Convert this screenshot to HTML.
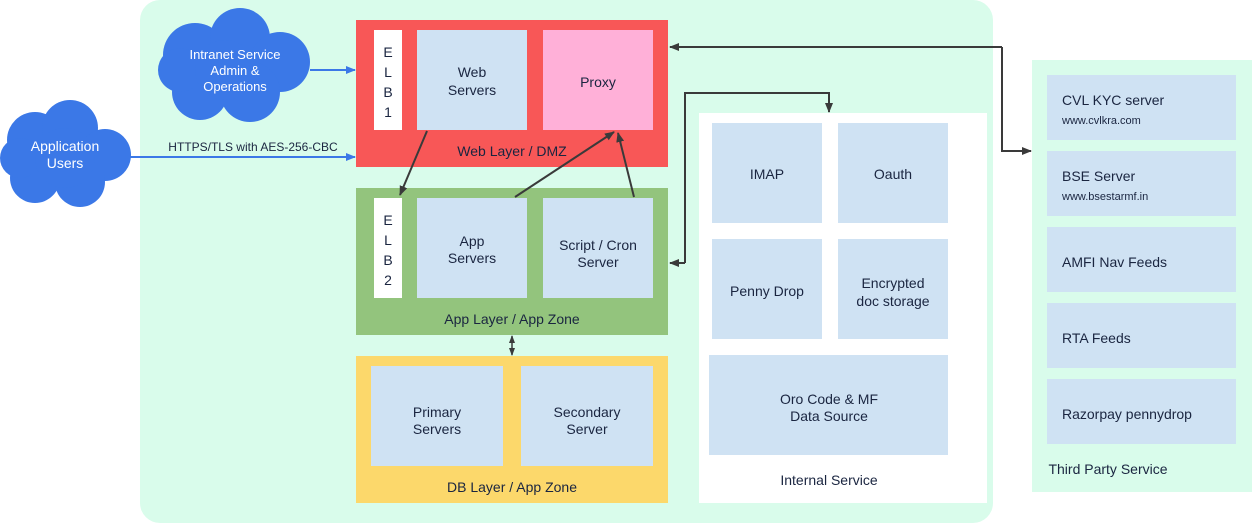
<!DOCTYPE html>
<html><head><meta charset="utf-8"><style>
body{margin:0;width:1252px;height:525px;background:#fff;overflow:hidden}
svg{display:block}
text{font-family:"Liberation Sans",sans-serif;font-size:14px;fill:#1a2540;text-anchor:middle}
</style></head><body>
<svg width="1252" height="525" viewBox="0 0 1252 525">
<defs>
<marker id="a" markerWidth="10" markerHeight="10" refX="9" refY="5" orient="auto" markerUnits="userSpaceOnUse"><path d="M0,1 L10,5 L0,9 Z" fill="#3a3a3a"/></marker>
<marker id="b" markerWidth="10" markerHeight="10" refX="9" refY="5" orient="auto" markerUnits="userSpaceOnUse"><path d="M0,1 L10,5 L0,9 Z" fill="#3b78e7"/></marker>
<marker id="s" markerWidth="8" markerHeight="8" refX="7" refY="4" orient="auto" markerUnits="userSpaceOnUse"><path d="M0,1 L8,4 L0,7 Z" fill="#3a3a3a"/></marker>
</defs>
<rect x="140" y="0" width="853" height="523" rx="20" fill="#d9fceb"/>
<rect x="1032" y="60" width="220" height="432" fill="#d9fceb"/>
<!-- web layer -->
<rect x="356" y="20" width="312" height="147" fill="#f85757"/>
<rect x="374" y="30" width="28" height="100" fill="#fff"/>
<rect x="417" y="30" width="110" height="100" fill="#cfe2f3"/>
<rect x="543" y="30" width="110" height="100" fill="#ffb0d8"/>
<text x="388" y="57">E</text><text x="388" y="77">L</text><text x="388" y="97">B</text><text x="388" y="117">1</text>
<text x="472" y="77">Web</text><text x="472" y="95">Servers</text>
<text x="598" y="87">Proxy</text>
<text x="512" y="156">Web Layer / DMZ</text>
<!-- app layer -->
<rect x="356" y="188" width="312" height="147" fill="#93c47d"/>
<rect x="374" y="198" width="28" height="100" fill="#fff"/>
<rect x="417" y="198" width="110" height="100" fill="#cfe2f3"/>
<rect x="543" y="198" width="110" height="100" fill="#cfe2f3"/>
<text x="388" y="225">E</text><text x="388" y="245">L</text><text x="388" y="265">B</text><text x="388" y="285">2</text>
<text x="472" y="246">App</text><text x="472" y="263">Servers</text>
<text x="598" y="250">Script / Cron</text><text x="598" y="267">Server</text>
<text x="512" y="324">App Layer / App Zone</text>
<!-- db layer -->
<rect x="356" y="356" width="312" height="147" fill="#fcd86b"/>
<rect x="371" y="366" width="132" height="100" fill="#cfe2f3"/>
<rect x="521" y="366" width="132" height="100" fill="#cfe2f3"/>
<text x="437" y="417">Primary</text><text x="437" y="434">Servers</text>
<text x="587" y="417">Secondary</text><text x="587" y="434">Server</text>
<text x="512" y="492">DB Layer / App Zone</text>
<!-- internal -->
<rect x="699" y="113" width="288" height="390" fill="#fff"/>
<rect x="712" y="123" width="110" height="100" fill="#cfe2f3"/>
<rect x="838" y="123" width="110" height="100" fill="#cfe2f3"/>
<rect x="712" y="239" width="110" height="100" fill="#cfe2f3"/>
<rect x="838" y="239" width="110" height="100" fill="#cfe2f3"/>
<rect x="709" y="355" width="239" height="100" fill="#cfe2f3"/>
<text x="767" y="179">IMAP</text><text x="893" y="179">Oauth</text>
<text x="767" y="296">Penny Drop</text>
<text x="893" y="288">Encrypted</text><text x="893" y="306">doc storage</text>
<text x="829" y="404">Oro Code &amp; MF</text><text x="829" y="421">Data Source</text>
<text x="829" y="485">Internal Service</text>
<!-- third party -->
<rect x="1047" y="75" width="189" height="65" fill="#cfe2f3"/>
<rect x="1047" y="151" width="189" height="65" fill="#cfe2f3"/>
<rect x="1047" y="227" width="189" height="65" fill="#cfe2f3"/>
<rect x="1047" y="303" width="189" height="65" fill="#cfe2f3"/>
<rect x="1047" y="379" width="189" height="65" fill="#cfe2f3"/>
<g style="text-anchor:start">
<text x="1062" y="105" style="text-anchor:start">CVL KYC server</text>
<text x="1062" y="124" style="text-anchor:start;font-size:11px">www.cvlkra.com</text>
<text x="1062" y="181" style="text-anchor:start">BSE Server</text>
<text x="1062" y="200" style="text-anchor:start;font-size:11px">www.bsestarmf.in</text>
<text x="1062" y="267" style="text-anchor:start">AMFI Nav Feeds</text>
<text x="1062" y="343" style="text-anchor:start">RTA Feeds</text>
<text x="1062" y="419" style="text-anchor:start">Razorpay pennydrop</text>
</g>
<text x="1108" y="474">Third Party Service</text>
<!-- clouds -->
<g fill="#3b78e7">
<circle cx="195" cy="55" r="32"/><circle cx="240" cy="38" r="30"/><circle cx="280" cy="62" r="30"/><circle cx="250" cy="92" r="30"/><circle cx="200" cy="92" r="28"/><circle cx="180" cy="70" r="22"/><circle cx="225" cy="70" r="30"/>
<circle cx="35" cy="140" r="28"/><circle cx="70" cy="128" r="28"/><circle cx="105" cy="155" r="26"/><circle cx="80" cy="182" r="25"/><circle cx="35" cy="178" r="25"/><circle cx="20" cy="158" r="20"/><circle cx="65" cy="158" r="30"/>
</g>
<g style="fill:#fff;font-size:13px">
<text x="235" y="59" style="fill:#fff;font-size:13px">Intranet Service</text>
<text x="235" y="75" style="fill:#fff;font-size:13px">Admin &amp;</text>
<text x="235" y="91" style="fill:#fff;font-size:13px">Operations</text>
<text x="65" y="151" style="fill:#fff">Application</text>
<text x="65" y="168" style="fill:#fff">Users</text>
</g>
<text x="253" y="151" style="font-size:12px">HTTPS/TLS with AES-256-CBC</text>
<!-- connectors -->
<g fill="none" stroke-width="2">
<line x1="310" y1="70" x2="355" y2="70" stroke="#3b78e7" marker-end="url(#b)"/>
<line x1="130" y1="157" x2="355" y2="157" stroke="#3b78e7" marker-end="url(#b)"/>
<g stroke="#3a3a3a">
<line x1="427" y1="131" x2="400" y2="195" marker-end="url(#a)"/>
<line x1="515" y1="197" x2="614" y2="132" marker-end="url(#a)"/>
<line x1="634" y1="197" x2="618" y2="133" marker-end="url(#a)"/>
<polyline points="1002,47 1002,151 1031,151" marker-end="url(#a)"/>
<line x1="1002" y1="47" x2="670" y2="47" marker-end="url(#a)"/>
<polyline points="685,263 685,93 829,93 829,112" marker-end="url(#a)"/>
<line x1="685" y1="263" x2="670" y2="263" marker-end="url(#a)"/>
<line x1="512" y1="345" x2="512" y2="355" stroke-width="1.5" marker-end="url(#s)"/>
<line x1="512" y1="345" x2="512" y2="336" stroke-width="1.5" marker-end="url(#s)"/>
</g>
</g>
</svg>
</body></html>
